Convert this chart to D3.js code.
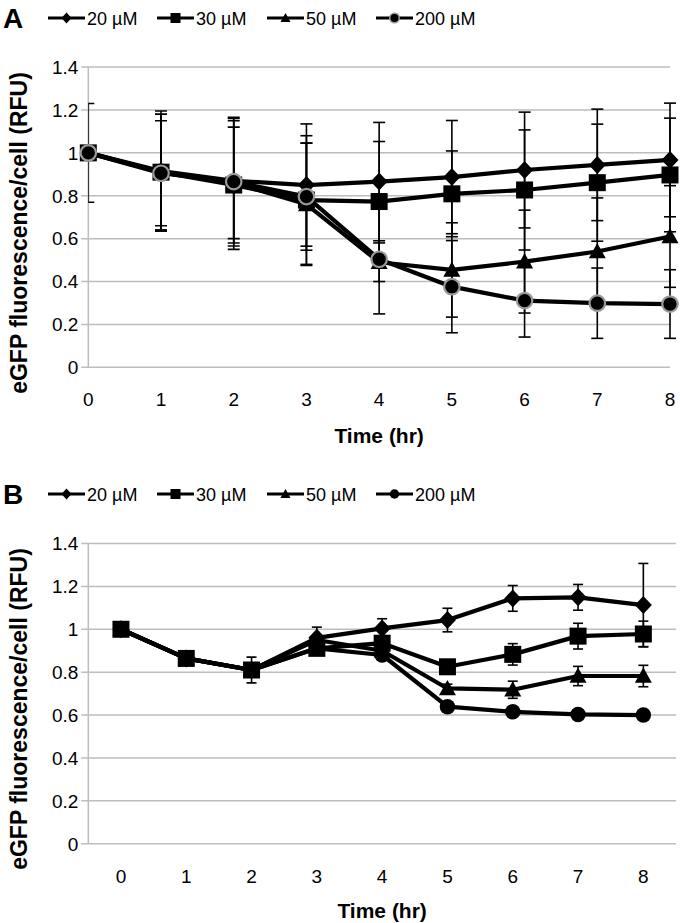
<!DOCTYPE html>
<html><head><meta charset="utf-8">
<script src="https://cdn.jsdelivr.net/npm/d3@7"></script>
<style>body{margin:0;background:#fff}svg{display:block}text{font-family:"Liberation Sans",Arial,sans-serif;fill:#000}</style>
</head><body>
<svg id="c" width="680" height="923"></svg>
<script>
const times = [0,1,2,3,4,5,6,7,8];
const seriesNames = ["20 µM","30 µM","50 µM","200 µM"];
const markerTypes = ["diamond","square","triangle","circle"];
const yTicks = [0,0.2,0.4,0.6,0.8,1,1.2,1.4];

// Panel A values
const a20 = [1,0.915,0.87,0.85,0.866,0.887,0.92,0.944,0.967];
const a30 = [1,0.91,0.85,0.78,0.773,0.809,0.827,0.861,0.897];
const a50 = [1,0.91,0.86,0.76,0.49,0.454,0.493,0.54,0.61];
const a200 = [1,0.905,0.866,0.796,0.504,0.376,0.311,0.299,0.295];
const a20err = [0.23,0.28,0.29,0.285,0.276,0.264,0.27,0.26,0.265];
const a30err = [0,0.27,0.3,0.3,0.28,0.2,0.28,0.273,0.265];
const a50err = [0,0.27,0.26,0.285,0.09,0.22,0.24,0.25,0.237];
const a200err = [0,0.245,0.3,0.25,0.255,0.215,0.17,0.164,0.16];

// Panel B values
const b20 = [1,0.864,0.81,0.96,1.004,1.043,1.144,1.149,1.113];
const b30 = [1,0.864,0.81,0.911,0.935,0.825,0.883,0.968,0.978];
const b50 = [1,0.864,0.81,0.95,0.9,0.724,0.718,0.782,0.782];
const b200 = [1,0.864,0.81,0.911,0.88,0.639,0.615,0.603,0.6];
const b20err = [0,0.01,0.01,0.05,0.045,0.055,0.06,0.06,0.194];
const b30err = [0,0.01,0.06,0.02,0.02,0.02,0.05,0.06,0.06];
const b50err = [0,0.01,0.01,0.02,0.02,0.02,0.04,0.045,0.05];
const b200err = [0,0.01,0.01,0.01,0.02,0.01,0.01,0.01,0.01];

const svg = d3.select("#c");
const grid = "#bdbdbd";

function marker(g, type, x, y, s, stroke, sw){
  let el;
  const h = s/2;
  if(type==="circle"){
    el = g.append("circle").attr("cx",x).attr("cy",y).attr("r",h);
  } else {
    let d;
    if(type==="diamond") d = `M0,${-h-0.5}L${h},0L0,${h+0.5}L${-h},0Z`;
    else if(type==="square") d = `M${-h},${-h}H${h}V${h}H${-h}Z`;
    else d = `M0,${-h}L${h},${h*0.8}L${-h},${h*0.8}Z`;
    el = g.append("path").attr("d", d).attr("transform",`translate(${x},${y})`);
  }
  el.attr("fill","#000");
  if(stroke) el.attr("stroke",stroke).attr("stroke-width",sw);
}

function panel(opts){
  const g = svg.append("g");
  const y = d3.scaleLinear().domain([0,1.4]).range([opts.y0, opts.y0-300.2]);
  let x;
  if(opts.onTicks){
    x = d3.scaleLinear().domain([0,8]).range([opts.left, opts.right]);
  } else {
    x = d3.scalePoint().domain(times).range([opts.left, opts.right]).padding(0.5);
  }
  const xr = opts.plotRight;
  // gridlines
  g.append("g").selectAll("line").data(yTicks).join("line")
    .attr("x1",opts.left-7).attr("x2",xr).attr("y1",d=>y(d)).attr("y2",d=>y(d))
    .attr("stroke",grid).attr("stroke-width",1.5);
  g.append("line").attr("x1",opts.left).attr("x2",opts.left).attr("y1",y(1.4)).attr("y2",y(0))
    .attr("stroke",grid).attr("stroke-width",1.5);
  // y tick labels
  g.append("g").selectAll("text").data(yTicks).join("text")
    .attr("x",opts.left-10).attr("y",d=>y(d)).attr("dy","0.36em")
    .attr("text-anchor","end").style("font-size","19px").text(d=>d3.format("~g")(d));
  // x tick labels
  g.append("g").selectAll("text").data(times).join("text")
    .attr("x",d=>x(d)).attr("y",opts.xLabelY).attr("text-anchor","middle")
    .style("font-size","19px").text(d=>d);
  // titles
  g.append("text").attr("x",(opts.left+xr)/2).attr("y",opts.xTitleY).attr("text-anchor","middle")
    .style("font-size","21px").style("font-weight","bold").text("Time (hr)");
  g.append("text").attr("transform",`translate(27,${opts.yTitleC}) rotate(-90)`).attr("text-anchor","middle")
    .style("font-size","23px").style("font-weight","bold").text("eGFP fluorescence/cell (RFU)");
  // panel letter
  g.append("text").attr("x",3).attr("y",opts.legendY+10).style("font-size","28px").style("font-weight","bold").text(opts.letter);

  // clip for error bars
  const cid = "clip"+opts.letter;
  svg.append("clipPath").attr("id",cid).append("rect")
    .attr("x",opts.left).attr("y",0).attr("width",xr-opts.left+20).attr("height",923);

  const line = d3.line().x((d,i)=>x(times[i])).y(d=>y(d));
  opts.series.forEach((vals,si)=>{
    const errs = opts.errs[si];
    const sg = g.append("g");
    const eg = sg.append("g").attr("clip-path",`url(#${cid})`);
    vals.forEach((v,i)=>{
      const e = errs[i]; if(!e) return;
      const cx = x(times[i]);
      eg.append("line").attr("x1",cx).attr("x2",cx).attr("y1",y(v+e)).attr("y2",y(v-e)).attr("stroke","#000").attr("stroke-width",1.6);
      [v+e,v-e].forEach(t=>eg.append("line").attr("x1",cx-opts.cap).attr("x2",cx+opts.cap).attr("y1",y(t)).attr("y2",y(t)).attr("stroke","#000").attr("stroke-width",1.6));
    });
    sg.append("path").datum(vals).attr("d",line).attr("fill","none").attr("stroke","#000")
      .attr("stroke-width",4.2).attr("stroke-linejoin","round");
    vals.forEach((v,i)=>{
      const t = markerTypes[si];
      const gs = (opts.letter==="A" && t==="circle") ? "#9a9a9a" : null;
      marker(sg, t, x(times[i]), y(v), t==="circle"?15.5:17, gs, 2.2);
    });
  });

  // legend
  const lx = [48,157,267,376];
  seriesNames.forEach((name,i)=>{
    const lg = g.append("g");
    lg.append("line").attr("x1",lx[i]).attr("x2",lx[i]+37).attr("y1",opts.legendY).attr("y2",opts.legendY)
      .attr("stroke","#000").attr("stroke-width",3);
    const t = markerTypes[i];
    const gs = (opts.letter==="A" && t==="circle") ? "#9a9a9a" : null;
    marker(lg, t, lx[i]+18.5, opts.legendY, t==="circle"?9.5:10, gs, 1.5);
    lg.append("text").attr("x",lx[i]+39).attr("y",opts.legendY).attr("dy","0.38em")
      .style("font-size","18px").text(name);
  });
}

panel({letter:"A", left:88.3, right:670, plotRight:670, onTicks:true, y0:367.3,
  xLabelY:406, xTitleY:443, yTitleC:233, legendY:18, cap:6,
  series:[a20,a30,a50,a200], errs:[a20err,a30err,a50err,a200err]});
panel({letter:"B", left:88.3, right:676, plotRight:676, onTicks:false, y0:843.7,
  xLabelY:883, xTitleY:918, yTitleC:709, legendY:494, cap:5,
  series:[b20,b30,b50,b200], errs:[b20err,b30err,b50err,b200err]});
</script>
</body></html>
